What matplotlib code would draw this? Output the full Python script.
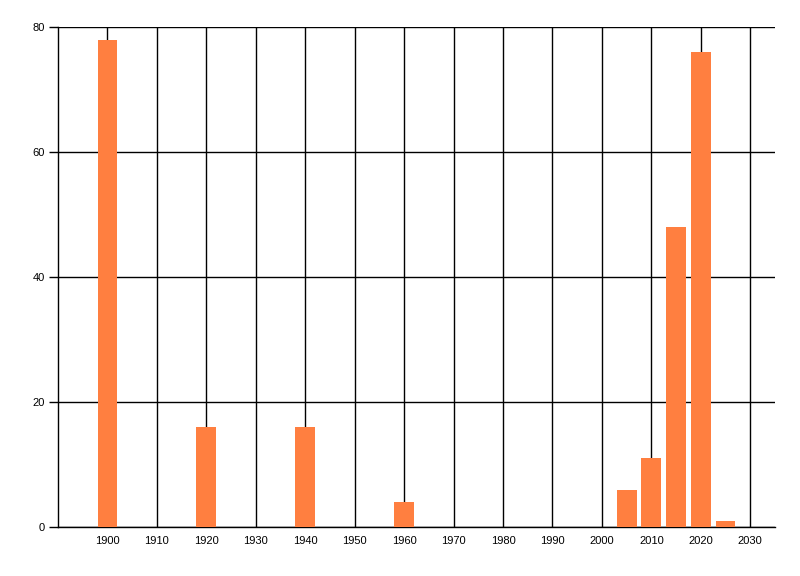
import matplotlib
matplotlib.use("Agg")
import matplotlib.pyplot as plt

years = [1900, 1920, 1940, 1960, 2005, 2010, 2015, 2020, 2025]
values = [78, 16, 16, 4, 6, 11, 48, 76, 1]
x_ticks = list(range(1900, 2031, 10))
y_ticks = [0, 20, 40, 60, 80]

fig = plt.figure(figsize=(8, 5.76), dpi=100)
ax = fig.add_axes([58/800, 1 - 527/576, (775-58)/800, (527-27)/576])

ax.bar(years, values, width=4, color="#FF7F40", zorder=3)

ax.set_xlim(1890, 2035)
ax.set_ylim(0, 80)
ax.set_xticks(x_ticks)
ax.set_yticks(y_ticks)
ax.grid(True, color="black", linewidth=1, zorder=0)
ax.set_axisbelow(True)

for s in ["top", "right"]:
    ax.spines[s].set_visible(False)
for s in ["left", "bottom"]:
    ax.spines[s].set_linewidth(1)
    ax.spines[s].set_color("black")

ax.tick_params(axis="x", length=0, pad=6.5, labelsize=8)
ax.tick_params(axis="y", length=6.5, width=1, pad=3, labelsize=8)
for lbl in ax.get_xticklabels() + ax.get_yticklabels():
    lbl.set_fontfamily("Liberation Sans")

fig.savefig("out.png", dpi=100)
